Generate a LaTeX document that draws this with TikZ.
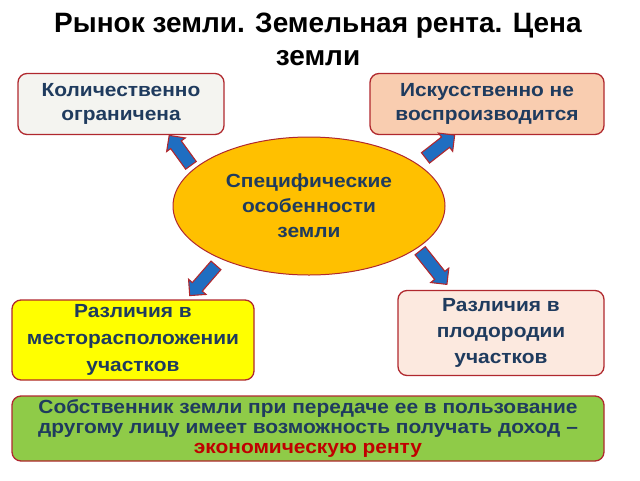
\documentclass[tikz,border=0pt]{standalone}
\usepackage{fontspec}
\setmainfont{Liberation Sans}
\newfontfamily\widesans[FakeStretch=1.1]{Liberation Sans}
\usetikzlibrary{shapes.geometric,shapes.arrows}

\definecolor{boxred}{HTML}{B0282E}
\definecolor{textblue}{HTML}{1F3B5E}
\definecolor{arrowblue}{HTML}{1F6EC1}
\definecolor{ovalfill}{HTML}{FFC000}
\definecolor{greyfill}{HTML}{F4F4F0}
\definecolor{peachfill}{HTML}{F9CDB0}
\definecolor{palefill}{HTML}{FCE9DF}
\definecolor{yellowfill}{HTML}{FFFF00}
\definecolor{greenfill}{HTML}{8FCB48}
\definecolor{rentred}{HTML}{C00000}

\tikzset{
  box/.style={draw=boxred, line width=1.3pt, rounded corners=9pt, align=center,
    text=textblue, inner sep=0pt, font=\widesans\bfseries\fontsize{19}{24}\selectfont},
  blockarr/.style={single arrow, draw=boxred, fill=arrowblue, line width=1.1pt,
    inner xsep=0pt, inner ysep=6pt, minimum width=0pt,
    single arrow head extend=5pt, single arrow head indent=0pt}
}

\begin{document}
\begin{tikzpicture}[x=1pt,y=-1pt]
  \useasboundingbox (0,0) rectangle (640,480);

  \node[align=center, font=\bfseries\fontsize{28}{33}\selectfont] (title) at (318,39)
    {Рынок земли. Земельная рента. Цена\\земли};

  \node[box, fill=greyfill, minimum width=206pt, minimum height=61pt] (qty) at (121,104)
    {Количественно\\ограничена};
  \node[box, fill=peachfill, minimum width=234pt, minimum height=61pt] (repro) at (487,104)
    {Искусственно не\\воспроизводится};

  \node[ellipse, draw=boxred, fill=ovalfill, line width=1pt, minimum width=272pt,
    minimum height=138pt, inner sep=0pt, align=center, text=textblue,
    font=\widesans\bfseries\fontsize{19}{25}\selectfont] (core) at (309,206)
    {Специфические\\особенности\\земли};

  \node[box, fill=yellowfill, minimum width=242pt, minimum height=80pt,
    font=\widesans\bfseries\fontsize{19}{27}\selectfont] (place) at (133,340)
    {Различия в\\месторасположении\\участков};
  \node[box, fill=palefill, minimum width=206pt, minimum height=85pt,
    font=\widesans\bfseries\fontsize{19}{26}\selectfont] (fert) at (501,333)
    {Различия в\\плодородии\\участков};

  \node[box, fill=greenfill, minimum width=592pt, minimum height=65pt,
    font=\widesans\bfseries\fontsize{19}{20}\selectfont] (rent) at (308,428.5)
    {Собственник земли при передаче ее в пользование\\
     другому лицу имеет возможность получать доход –\\
     \textcolor{rentred}{экономическую ренту}};

  % block arrows from the oval out to the boxes
  \node[blockarr, rotate=126, minimum height=37pt] (a1) at (182,153) {};
  \node[blockarr, rotate=38, minimum height=37pt] (a2) at (437.5,148.5) {};
  \node[blockarr, rotate=229, minimum height=40pt] (a3) at (205,278) {};
  \node[blockarr, rotate=-51.5, minimum height=43pt] (a4) at (431.5,265) {};
\end{tikzpicture}
\end{document}
